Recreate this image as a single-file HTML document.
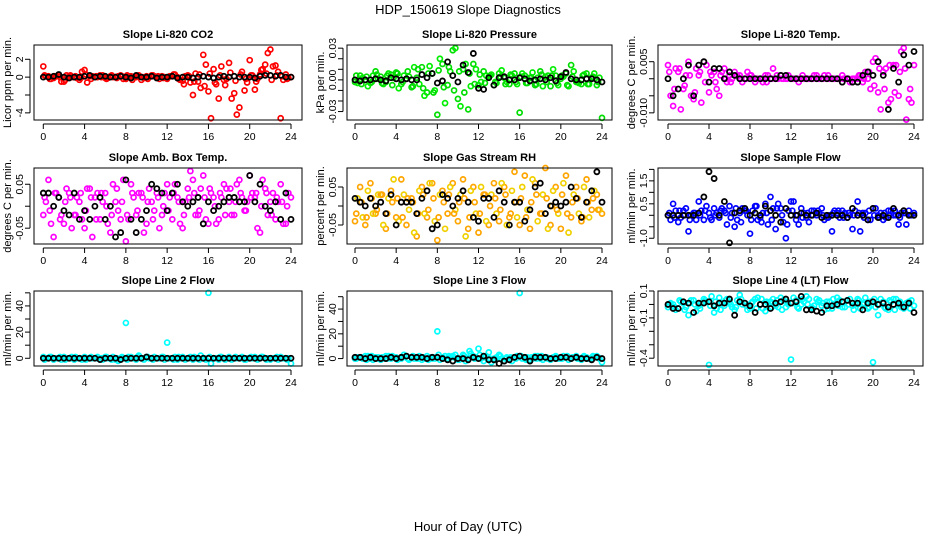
<!DOCTYPE html>
<html><head><meta charset="utf-8"><style>
html,body{margin:0;padding:0;background:#fff;}
svg{display:block;font-family:"Liberation Sans",sans-serif;}
</style></head><body>
<svg id="chart" width="936" height="540" viewBox="0 0 936 540" xmlns="http://www.w3.org/2000/svg">
<rect x="0" y="0" width="936" height="540" fill="#fff"/>
<text x="468" y="14" text-anchor="middle" font-size="13">HDP_150619  Slope Diagnostics</text>
<text x="468" y="531" text-anchor="middle" font-size="13">Hour of Day (UTC)</text>
</svg>
<script>
const hoursA = [0,0.5,1,1.5,2,2.5,3,3.5,4,4.5,5,5.5,6,6.5,7,7.5,8,8.5,9,9.5,10,10.5,11,11.5,12,12.5,13,13.5,14,14.5,15,15.5,16,16.5,17,17.5,18,18.5,19,19.5,20,20.5,21,21.5,22,22.5,23,23.5,24];
const hoursB = [0.25,0.75,1.25,1.75,2.25,2.75,3.25,3.75,4.25,4.75,5.25,5.75,6.25,6.75,7.25,7.75,8.25,8.75,9.25,9.75,10.25,10.75,11.25,11.75,12.25,12.75,13.25,13.75,14.25,14.75,15.25,15.75,16.25,16.75,17.25,17.75,18.25,18.75,19.25,19.75,20.25,20.75,21.25,21.75,22.25,22.75,23.25,23.75];
const hoursC = [0.125,0.625,1.125,1.625,2.125,2.625,3.125,3.625,4.125,4.625,5.125,5.625,6.125,6.625,7.125,7.625,8.125,8.625,9.125,9.625,10.125,10.625,11.125,11.625,12.125,12.625,13.125,13.625,14.125,14.625,15.125,15.625,16.125,16.625,17.125,17.625,18.125,18.625,19.125,19.625,20.125,20.625,21.125,21.625,22.125,22.625,23.125,23.625];
const xTicks = [0,4,8,12,16,20,24];

const co2A = [1.2,0.1,-0.1,0.2,-0.5,0.1,0,-0.3,0.8,0.1,0,0.2,-0.1,0.1,0,0.2,-0.2,0.1,0,-0.3,0.1,0.2,0,0.1,-0.2,0.1,0,-0.4,0.2,-2,-0.5,2.5,-1.6,0.9,-2.4,-0.3,1.6,-1.8,-3.4,-1.5,1.9,-1.4,0.3,1.4,3.1,1.3,-4.6,0.3,0];
const co2B = [0.1,-0.2,0.1,-0.5,0.2,0,-0.1,0.6,-0.6,0.1,0,0.2,-0.1,0,0.1,-0.2,0.1,0,0.2,-0.1,0,0.1,-0.2,0,0.1,0.3,-0.3,0.1,-0.6,0.4,-1.2,1.4,-4.6,-0.8,1.2,-0.2,-2.4,-4.2,0.6,-0.6,0.2,-0.2,0.9,2.7,1.2,0.6,-0.3,-0.1];
const co2C = [0.2,-0.2,0.1,0,-0.3,0.2,0.1,-0.1,0.3,-0.2,0.1,0,-0.2,0.2,-0.1,0.1,0.2,-0.3,0.1,0,-0.2,0.2,0.1,-0.1,0,0.3,-0.2,-0.8,0.1,-0.5,0.3,-1.0,0.4,-0.6,0.2,-0.9,0.5,-0.4,0.3,-0.2,0.2,-0.5,0.8,0.4,-0.3,0.2,0.1,-0.2];
const co2K = [0,0,0.1,0.3,0,-0.1,0,0,0.1,0.2,0,0.1,0.1,0,0,0.1,0,-0.1,0.2,0,0,0.1,-0.1,0,0,0.1,-0.1,0,0,-0.1,0,0.1,0,-0.1,0,0.1,0,0.1,0,0,0,-0.1,0.1,0.2,0.2,0.1,0.2,0,0];

const presA = [-0.002,0.004,0,-0.003,0.008,0.003,-0.002,0.005,0.007,-0.004,0.001,-0.007,0.002,0.012,-0.012,0.006,-0.033,0.015,-0.005,0.028,-0.018,0.01,-0.028,0.015,-0.005,0.008,0.003,-0.005,0.006,0.002,-0.004,0.006,-0.031,0.004,0.002,-0.005,0.008,0.003,-0.006,0.004,0.001,0.006,0.014,-0.002,-0.004,0.006,0.002,-0.005,-0.036];
const presB = [-0.003,0.002,-0.006,0.004,0.001,-0.004,0.006,0.002,-0.008,0.004,0.003,0.012,-0.004,-0.015,0.013,-0.01,0.02,-0.022,0.008,0.03,-0.025,0.015,-0.006,0.01,-0.002,0.004,0.005,-0.003,0.009,-0.002,0.004,-0.004,0.006,-0.003,0.007,0.002,-0.006,0.004,0.01,-0.005,0.003,-0.006,0.008,-0.003,0.005,-0.004,0.006,0.002];
const presC = [0.004,-0.004,0.003,-0.002,0.005,-0.003,0.004,-0.005,0.006,-0.002,0.008,-0.006,0.01,-0.008,0.006,-0.012,0.009,-0.007,0.012,-0.01,0.008,-0.012,0.006,-0.004,0.005,-0.003,0.004,-0.002,0.003,-0.004,0.005,-0.002,0.003,-0.003,0.002,-0.004,0.005,-0.002,0.004,-0.003,0.004,-0.005,0.003,-0.002,0.004,-0.004,0.003,-0.002];
const presK = [0,-0.001,0,0,0.001,0,-0.001,0.002,0.001,0,0.001,0,0,0.005,0.002,0.006,-0.003,-0.001,0.017,0.004,-0.002,0.014,0.007,0.025,-0.008,-0.009,0.002,-0.005,0.002,0.003,0,0,0.002,0.001,-0.001,0,0.001,0,0.002,-0.001,0.003,0.007,0.001,0,0,0.001,0.001,0,-0.002];

const tempA = [0.004,-0.008,0.002,-0.003,0.005,-0.006,0.001,0.005,-0.004,0.002,-0.005,0.003,0.001,0.002,0.001,0,0.001,-0.001,0,0.001,0,0,0.001,0,0,0,0,0,0,0.001,0,0,0,0,0.001,0,0,0,-0.001,0,0.005,-0.004,0.002,-0.007,0.004,-0.005,0.009,-0.006,0.004];
const tempB = [-0.005,0.003,-0.009,0.001,-0.005,0.003,-0.007,0.004,0.001,-0.003,0.002,-0.001,0,0.001,-0.001,0.002,0,0,-0.001,0.001,0.003,0,0,0.001,0,-0.001,0,0,0.001,0,0.001,0,0,0,0,-0.001,0,0.001,0.002,-0.003,0.006,-0.009,0.003,-0.006,0.004,0.008,-0.012,-0.007];
const tempC = [0.002,-0.003,0.003,-0.002,0.001,-0.004,0.002,-0.001,0.002,-0.001,0.001,0,-0.001,0.001,0,0,0.001,0,0,-0.001,0,0.001,0,0,0,0,0.001,0,0,0,0,0.001,0,0,0,0,0,0.001,0,0.002,-0.002,0.003,-0.003,0.004,-0.004,0.002,0.003,-0.003];
const tempK = [0,-0.005,-0.003,0,0.004,-0.005,0.004,0.005,-0.001,0.003,0.003,0,0.002,0.001,0,0,0,0,0,0,0,0,0.001,0.001,0,0,0,0,0,0,0,0,0,0,-0.001,0,-0.001,-0.001,0.001,0.002,0.001,0.005,0.001,-0.009,0.003,-0.001,0.007,0.004,0.008];

const ambA = [-0.02,0.06,-0.07,0.02,-0.04,0.03,-0.02,0.01,-0.05,0.04,0.02,-0.03,0.03,-0.06,0.01,-0.03,-0.08,0.05,-0.02,0.03,-0.04,0.01,0.03,-0.02,0.05,-0.03,0.02,-0.05,0.04,0.06,-0.02,0.07,-0.04,0.02,-0.03,0.05,0.01,-0.02,0.06,-0.01,0.07,0.02,-0.06,0.04,0.01,-0.03,0.05,-0.04,0.02];
const ambB = [0.01,-0.04,0.03,-0.02,0.04,-0.05,0.02,-0.03,0.04,-0.07,0.03,0.01,-0.04,0.05,-0.01,0.06,-0.03,0.02,0.03,-0.06,0.04,-0.01,-0.05,0.03,0.02,0.05,-0.04,0.01,0.08,-0.02,0.04,-0.03,0.03,-0.04,0.02,0.04,-0.02,0.05,0.02,0.01,0.03,-0.05,0.06,-0.02,0.03,0.01,-0.04,0.03];
const ambC = [0.02,-0.01,0.03,-0.03,0.01,0.02,-0.02,0.03,-0.01,0.02,-0.03,0.03,0,-0.02,0.04,0.01,-0.02,0.03,-0.01,0.02,0.01,-0.03,0.02,0,-0.01,0.03,0.01,-0.02,0.02,0.03,-0.01,0.02,0.04,0,0.03,-0.02,0.04,0.01,0.03,-0.01,0.02,0.03,0,0.03,-0.02,0.02,0.01,0];
const ambK = [0.03,0.03,0,0.02,-0.01,-0.02,0.03,-0.03,-0.01,-0.03,0,0.02,-0.03,0,-0.07,-0.06,0.06,-0.03,-0.06,-0.03,-0.01,0.05,0.04,0.03,-0.01,0.03,0.05,0.01,0,0.01,0.02,-0.04,0.01,-0.01,0,0.01,0.02,0.02,0.01,0.01,0.07,0.01,0.05,0,-0.01,0.01,-0.03,0.03,-0.03];

const rhA = [-0.04,0.05,-0.05,0.06,-0.02,0.03,-0.06,0.04,-0.03,0.07,-0.05,0.02,-0.08,0.05,-0.03,0.06,-0.09,0.04,-0.02,0.06,-0.04,0.07,-0.06,0.05,-0.07,0.03,-0.05,0.06,-0.04,0.05,-0.03,0.09,-0.05,0.08,-0.06,0.06,-0.02,0.1,-0.05,0.05,-0.06,0.08,-0.03,0.05,-0.04,0.07,-0.01,0.03,-0.02];
const rhB = [0.02,-0.03,0.04,-0.02,0.03,-0.05,0.02,0.07,-0.04,0.03,-0.01,-0.07,0.04,-0.02,0.06,-0.04,0.03,-0.06,0.05,-0.01,0.03,-0.08,0.04,-0.02,0.05,-0.04,0.03,-0.02,0.06,-0.05,0.04,-0.03,0.05,-0.01,0.07,-0.04,0.03,-0.06,0.04,-0.02,0.06,-0.07,0.03,-0.02,0.05,-0.03,0.04,-0.01];
const rhC = [-0.02,0.01,-0.03,0.02,-0.01,0.03,-0.02,0.01,0.02,-0.03,0.02,0.01,-0.02,0.03,-0.01,0.02,-0.03,0.01,0.03,-0.02,0.01,0.02,-0.03,0.01,-0.02,0.03,0,0.02,-0.01,0.03,-0.02,0.01,0.02,-0.03,0.01,0.03,-0.02,0.02,0,-0.01,0.03,-0.02,0.01,0.02,-0.03,0.01,0.02,-0.01];
const rhK = [0.02,0.01,0,0.02,0,0.01,-0.02,0.03,-0.05,0.01,0.01,0.01,-0.02,0.02,0.04,-0.06,-0.05,0.03,0.02,0,0.02,0.04,0.01,-0.03,-0.04,0.02,0.02,-0.03,0.04,0.01,-0.05,0.01,0.01,-0.04,-0.01,0.05,0.06,-0.02,0,0.01,0,0.01,0.05,0.02,-0.03,0.01,0.04,0.09,0.01];

const flowA = [0,0.5,-0.3,0.2,-0.7,0.1,0.6,-0.2,0.1,0.3,-0.1,0.2,0.4,-0.5,0.1,0.2,-0.8,0.4,-0.1,0.5,0.8,-0.6,0.3,-1.0,0.6,-0.2,0.3,-0.1,0.2,0,0.3,-0.1,-0.7,0.1,0.2,-0.1,-0.6,0.6,0.1,-0.2,0.3,0,-0.2,0.2,0,-0.4,0.1,0.2,0.1];
const flowB = [-0.2,0.2,-0.1,0.3,0,-0.2,0.2,0.4,-0.2,0.1,0.3,-0.4,0.1,-0.2,0.3,0,0.2,-0.2,0.1,-0.4,0.3,0.5,-0.3,0.2,0.6,-0.4,0.1,-0.3,0.2,0.1,-0.2,0,0.2,-0.1,0.1,0,0.2,-0.7,0.1,-0.2,0.3,0.1,-0.1,0.2,0,0.1,-0.4,0];
const flowC = [0.1,-0.1,0.2,0,-0.2,0.1,0,0.2,-0.1,0,0.2,0.1,-0.1,0.3,-0.3,0.2,-0.2,0.4,-0.3,0.1,-0.2,0.3,0,-0.4,0.2,0,-0.1,0.1,0,0.2,0,-0.1,0.1,0.2,-0.1,0.1,0,0.1,-0.1,0.2,0,-0.1,0.1,0,0.2,-0.1,0.1,0];
const flowK = [0,0,0,0,0,0,0.1,0.8,1.9,1.6,0,0.6,-1.2,0.1,0.2,0.3,0,0.1,0,0.4,0.2,0,-0.3,0.3,0,0,0.1,0,0,0.1,-0.1,0,0,0,0,-0.1,0.3,0,0,-0.2,0.3,-0.1,0,-0.1,0.3,0,0.2,0,0];

const l2A = [1,0,-1,0,1,0,-1,0,1,0,0,-1,1,0,-1,0,27,1,-1,0,1,0,0,1,12,0,-1,1,0,-1,0,0,50,0,-1,0,1,0,0,-1,0,1,0,0,-1,0,1,0,-4];
const l2B = [0,1,0,-1,0,1,0,-1,0,0,1,-1,0,1,-2,0,1,0,2,-1,0,1,0,-1,0,1,0,-1,1,0,2,-1,-4,0,1,0,-1,0,1,0,0,-1,1,0,0,-1,0,0];
const l2C = [-1,1,0,1,-1,0,1,0,-1,1,0,0,1,-1,0,1,-1,0,1,0,1,-1,0,1,0,-1,1,0,0,1,-1,0,1,0,1,-1,0,1,0,-1,1,0,1,-1,0,1,0,-1];
const l2K = [0,0,0,0,0,0,0,0,0,0,0,-1,0,0,0,-1,0,0,0,0,1,0,0,0,0,0,0,0,0,0,0,0,0,0,0,0,0,0,0,0,0,0,0,0,0,0,0,0,0];

const l3A = [0,1,2,0,1,-1,2,0,1,0,2,1,0,-1,2,0,22,1,0,2,-1,3,0,2,8,-2,5,0,3,-2,0,1,53,0,-1,2,0,1,-1,2,0,1,0,2,-1,1,0,2,-3];
const l3B = [1,0,2,-1,1,0,2,1,0,3,-1,0,2,0,1,0,-1,2,1,3,0,-2,4,1,0,2,-3,1,0,1,-2,2,0,1,0,2,-1,0,1,0,2,-1,1,0,2,0,1,0];
const l3C = [0,1,-1,2,0,1,0,2,-1,1,0,2,0,1,-1,1,3,0,2,1,-1,2,6,0,3,1,0,-1,2,0,1,0,2,-1,1,0,2,1,0,1,0,2,1,0,1,0,2,1];
const l3K = [1,1,0,1,0,0,0,1,0,1,2,1,1,1,0,1,1,0,-1,-2,0,0,-1,1,0,2,-1,-1,-4,-2,-1,1,2,1,-2,1,1,1,0,0,1,1,0,1,0,0,-1,1,0];

const l4A = [-0.02,0,-0.03,0.01,-0.08,0.03,-0.01,0.04,-0.45,-0.06,0.05,-0.01,0.02,-0.04,0.07,0.01,-0.03,0.04,0,-0.05,0.02,-0.01,0.05,-0.02,-0.41,0.03,0,0.06,-0.02,0.04,-0.01,0.02,-0.03,0.05,-0.02,0.03,-0.01,0.04,0,-0.03,-0.43,-0.08,0.02,-0.04,0.04,0,-0.03,0.02,-0.01];
const l4B = [0.01,-0.04,0.02,-0.02,0.03,-0.05,0.01,0.02,0.06,-0.03,0.01,0.04,-0.02,0.03,0,-0.04,0.02,0.05,-0.03,0.01,0.04,-0.02,0.03,0,0.05,-0.03,0.02,0.04,-0.01,0.03,-0.04,0.02,0,0.03,-0.02,0.04,0,-0.03,0.05,0.02,-0.02,0.04,-0.03,0.02,0.04,-0.02,0.01,0.03];
const l4C = [0,-0.02,0.03,-0.04,0.01,0,-0.03,0.03,-0.01,0.02,-0.04,0.03,0,-0.02,0.04,-0.01,0.01,-0.03,0.04,0.02,-0.02,0.03,-0.04,0.02,0.01,-0.02,0.04,0,-0.03,0.02,0.01,-0.03,0.04,-0.01,0.02,0,-0.04,0.03,0.01,-0.02,0.04,0,-0.02,0.03,-0.04,0.02,0,-0.03];
const l4K = [0,-0.03,-0.03,0.02,0.01,-0.06,0.01,0.01,0.02,-0.01,0.01,0.01,0.04,-0.08,0.02,0.01,-0.01,-0.06,0,0,-0.03,0.01,0.02,0.04,0.01,0.02,0.06,-0.04,-0.04,-0.05,-0.06,-0.01,-0.01,0,0.02,0.03,0.01,0.01,-0.04,0.01,0.02,0,0.01,-0.02,0,0.01,-0.02,0.01,-0.06];

const co2Ticks = [-4,-2,0,2], co2TickLabels = ["-4","","0","2"];
const presTicks = [-0.03,-0.02,-0.01,0,0.01,0.02,0.03], presTickLabels = ["-0.03","","","0.00","","","0.03"];
const tempTicks = [-0.01,-0.005,0,0.005], tempTickLabels = ["-0.010","","","0.005"];
const ambTicks = [-0.05,0,0.05], ambTickLabels = ["-0.05","","0.05"];
const rhTicks = [-0.05,0,0.05], rhTickLabels = ["-0.05","","0.05"];
const flowTicks = [-1,-0.5,0,0.5,1,1.5,2], flowTickLabels = ["-1.0","","","0.5","","1.5",""];
const l2Ticks = [0,10,20,30,40,50], l2TickLabels = ["0","","20","","40",""];
const l3Ticks = [0,10,20,30,40,50], l3TickLabels = ["0","","20","","40",""];
const l4Ticks = [0.1,0,-0.1,-0.2,-0.3,-0.4], l4TickLabels = ["0.1","","-0.1","","","-0.4"];

const NS = "http://www.w3.org/2000/svg";
const svg = document.getElementById('chart');
const cols = [{l:34,r:302,x0:43.3,x1:291},{l:347,r:612,x0:355,x1:602},{l:658,r:923,x0:668,x1:914}];
const rows = [{t:45,b:120},{t:168,b:244},{t:291,b:366}];
const panels = [
 {key:'co2',title:'Slope Li-820 CO2',ylab:'Licor ppm per min.',c:0,r:0,top:3.6,bot:-4.8,A:co2A,B:co2B,C:co2C,K:co2K,ticks:co2Ticks,tl:co2TickLabels,colA:'#ff0000',colB:'#ff0000'},
 {key:'pressure',title:'Slope Li-820 Pressure',ylab:'kPa per min.',c:1,r:0,top:0.033,bot:-0.038,A:presA,B:presB,C:presC,K:presK,ticks:presTicks,tl:presTickLabels,colA:'#00dd00',colB:'#00ee00'},
 {key:'temp',title:'Slope Li-820 Temp.',ylab:'degrees C per min.',c:2,r:0,top:0.0099,bot:-0.0121,A:tempA,B:tempB,C:tempC,K:tempK,ticks:tempTicks,tl:tempTickLabels,colA:'#ff00ff',colB:'#ff00ff'},
 {key:'amb-box-temp',title:'Slope Amb. Box Temp.',ylab:'degrees C per min.',c:0,r:1,top:0.087,bot:-0.086,A:ambA,B:ambB,C:ambC,K:ambK,ticks:ambTicks,tl:ambTickLabels,colA:'#ff00ff',colB:'#ff00ff'},
 {key:'gas-stream-rh',title:'Slope Gas Stream RH',ylab:'percent per min.',c:1,r:1,top:0.1,bot:-0.1,A:rhA,B:rhB,C:rhC,K:rhK,ticks:rhTicks,tl:rhTickLabels,colA:'#ffa500',colB:'#f0d000'},
 {key:'sample-flow',title:'Slope Sample Flow',ylab:'ml/min per min.',c:2,r:1,top:2.06,bot:-1.25,A:flowA,B:flowB,C:flowC,K:flowK,ticks:flowTicks,tl:flowTickLabels,colA:'#0000ff',colB:'#0000ff'},
 {key:'line2-flow',title:'Slope Line 2 Flow',ylab:'ml/min per min.',c:0,r:2,top:51.4,bot:-5.9,A:l2A,B:l2B,C:l2C,K:l2K,ticks:l2Ticks,tl:l2TickLabels,colA:'#00ffff',colB:'#00ffff'},
 {key:'line3-flow',title:'Slope Line 3 Flow',ylab:'ml/min per min.',c:1,r:2,top:54.6,bot:-6,A:l3A,B:l3B,C:l3C,K:l3K,ticks:l3Ticks,tl:l3TickLabels,colA:'#00ffff',colB:'#00ffff'},
 {key:'line4-flow',title:'Slope Line 4 (LT) Flow',ylab:'ml/min per min.',c:2,r:2,top:0.1,bot:-0.458,A:l4A,B:l4B,C:l4C,K:l4K,ticks:l4Ticks,tl:l4TickLabels,colA:'#00ffff',colB:'#00ffff'}
];

function mk(tag, attrs, parent){
  const e = document.createElementNS(NS, tag);
  for (const k in attrs) e.setAttribute(k, attrs[k]);
  (parent||svg).appendChild(e);
  return e;
}

panels.forEach(p => {
  const C = cols[p.c], R = rows[p.r];
  const xs = h => C.x0 + (h/24)*(C.x1 - C.x0);
  const ys = v => R.t + (p.top - v)/(p.top - p.bot)*(R.b - R.t);
  const g = mk('g', {});
  
  

  const title = mk('text', {x:(C.l+C.r)/2, y:R.t-7, 'text-anchor':'middle', 'font-size':11, 'font-weight':'bold'}, g);
  title.textContent = p.title;
  
  

  const yl = mk('text', {x:0, y:0, 'text-anchor':'middle', 'font-size':11, transform:`translate(${C.l-23},${(R.t+R.b)/2}) rotate(-90)`}, g);
  yl.textContent = p.ylab;
  
  

  const pts = mk('g', {fill:'none'}, g);
  
  
  const series = [[hoursA,p.A,p.colA],[hoursB,p.B,p.colB],[hoursC,p.C,p.colA]];
  series.forEach(s => {
    const n = Math.min(s[0].length, s[1].length);
    for (let i=0;i<n;i++){
      const c = mk('circle', {cx:xs(s[0][i]), cy:ys(s[1][i]), r:2.5, stroke:s[2], 'stroke-width':1.7}, pts);
      
      
    }
  });
  const nk = Math.min(hoursA.length, p.K.length);
  for (let i=0;i<nk;i++){
    const c = mk('circle', {cx:xs(hoursA[i]), cy:ys(p.K[i]), r:2.5, stroke:'#000', 'stroke-width':1.8}, pts);
    
    
  }

  const box = mk('rect', {x:C.l, y:R.t, width:C.r-C.l, height:R.b-R.t, fill:'none', stroke:'#000', 'stroke-width':1}, g);
  
  

  const xa = mk('g', {}, g);
  
  
  mk('line', {x1:xs(xTicks[0]), x2:xs(xTicks[xTicks.length-1]), y1:R.b+4, y2:R.b+4, stroke:'#000'}, xa);
  xTicks.forEach(t => {
    mk('line', {x1:xs(t), x2:xs(t), y1:R.b+4, y2:R.b+9, stroke:'#000'}, xa);
    const tx = mk('text', {x:xs(t), y:R.b+20, 'text-anchor':'middle', 'font-size':10.5}, xa);
    tx.textContent = String(t);
  });

  const ya = mk('g', {}, g);
  
  
  const yv = p.ticks.map(ys);
  mk('line', {x1:C.l-4, x2:C.l-4, y1:Math.min(...yv), y2:Math.max(...yv), stroke:'#000'}, ya);
  p.ticks.forEach((t,i) => {
    mk('line', {x1:C.l-9, x2:C.l-4, y1:ys(t), y2:ys(t), stroke:'#000'}, ya);
    if (p.tl[i]) {
      const tx = mk('text', {x:0, y:0, 'text-anchor':'middle', 'font-size':10.5, transform:`translate(${C.l-11},${ys(t)}) rotate(-90)`}, ya);
      tx.textContent = p.tl[i];
    }
  });
});
</script>
</body></html>
